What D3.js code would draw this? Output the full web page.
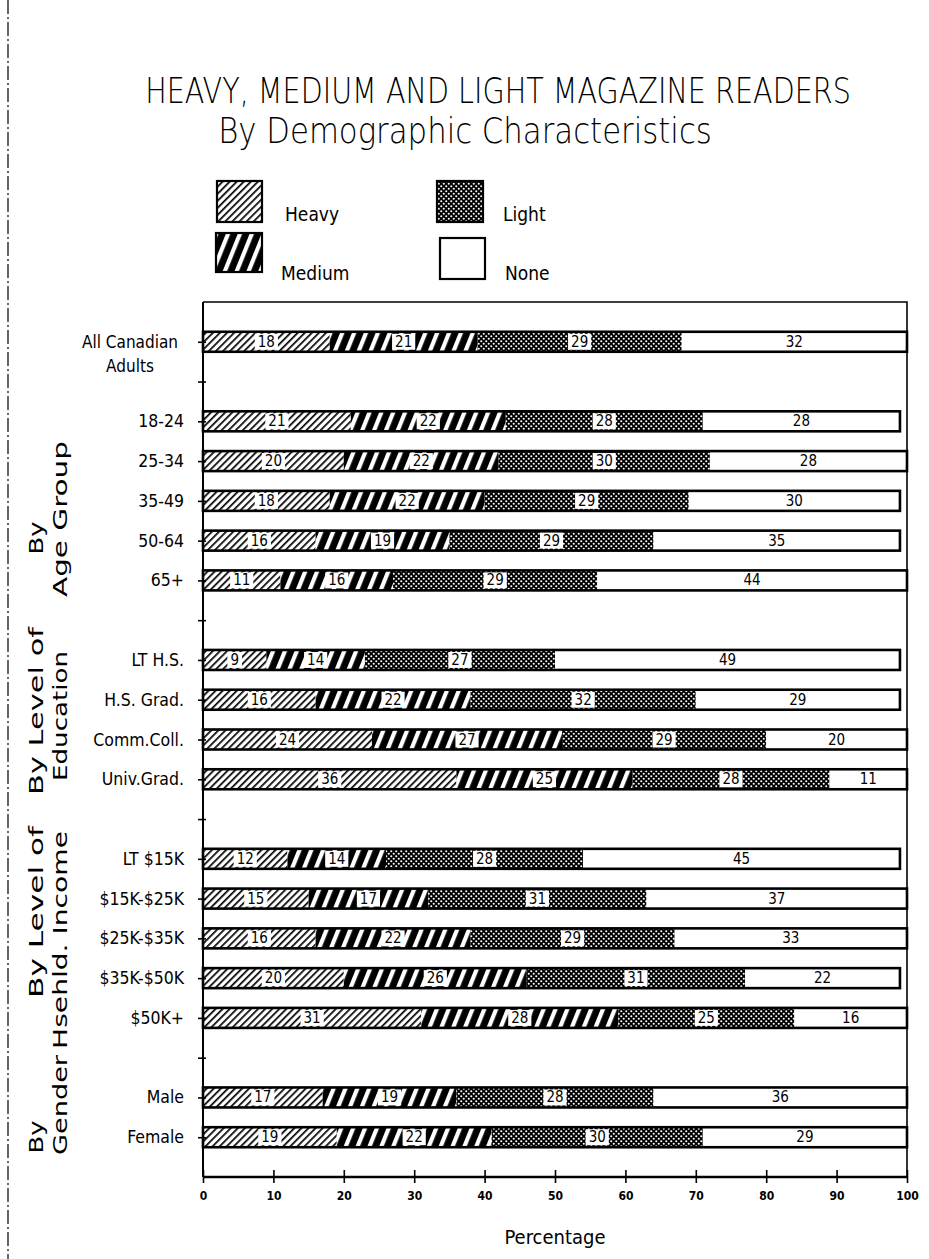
<!DOCTYPE html>
<html><head><meta charset="utf-8">
<script src="https://cdn.jsdelivr.net/npm/d3@7"></script>
<style>body{margin:0;background:#fff} svg{display:block}</style>
</head><body>
<svg id="c" width="929" height="1259"></svg>
<script>
// ---------- DATA ----------
const categories = ["All Canadian Adults","18-24","25-34","35-49","50-64","65+",
  "LT H.S.","H.S. Grad.","Comm.Coll.","Univ.Grad.",
  "LT $15K","$15K-$25K","$25K-$35K","$35K-$50K","$50K+",
  "Male","Female"];
const heavy  = [18,21,20,18,16,11, 9,16,24,36, 12,15,16,20,31, 17,19];
const medium = [21,22,22,22,19,16, 14,22,27,25, 14,17,22,26,28, 19,22];
const light  = [29,28,30,29,29,29, 27,32,29,28, 28,31,29,31,25, 28,30];
const none   = [32,28,28,30,35,44, 49,29,20,11, 45,37,33,22,16, 36,29];
const seriesNames = ["Heavy","Medium","Light","None"];
const xTicks = [0,10,20,30,40,50,60,70,80,90,100];
const groupTitles = [["By","Age Group"],["By Level of","Education"],["By Level of","Hsehld. Income"],["By","Gender"]];
const groupMembers = [["18-24","25-34","35-49","50-64","65+"],
  ["LT H.S.","H.S. Grad.","Comm.Coll.","Univ.Grad."],
  ["LT $15K","$15K-$25K","$25K-$35K","$35K-$50K","$50K+"],
  ["Male","Female"]];
const title = "HEAVY, MEDIUM AND LIGHT MAGAZINE READERS";
const subtitle = "By Demographic Characteristics";
const xTitle = "Percentage";

// ---------- LAYOUT ----------
const svg = d3.select("#c");
const X0 = 203, X1 = 907, YT = 302, YB = 1177;
const FONT = "'DejaVu Sans', sans-serif";

const slots = [categories[0]];
groupMembers.forEach((g, i) => { slots.push("gap" + i); g.forEach(c => slots.push(c)); });

const x = d3.scaleLinear().domain([0,100]).range([X0, X1]);
const y = d3.scalePoint().domain(slots).range([YT, YB]).padding(1);

// text fitted to a target width by horizontal scaling
function fitText(sel, cx, cy, rot, target) {
  const len = sel.node().getComputedTextLength();
  const k = target / len;
  sel.attr("transform", `translate(${cx},${cy}) rotate(${rot}) scale(${k},1)`);
}

// patterns
const defs = svg.append("defs");
let p = defs.append("pattern").attr("id","pHeavy").attr("patternUnits","userSpaceOnUse")
  .attr("width",5).attr("height",5).attr("patternTransform","rotate(45)");
p.append("rect").attr("width",5).attr("height",5).attr("fill","#fff");
p.append("rect").attr("x",0).attr("y",0).attr("width",1.7).attr("height",5).attr("fill","#000");

p = defs.append("pattern").attr("id","pMedium").attr("patternUnits","userSpaceOnUse")
  .attr("width",11).attr("height",11).attr("patternTransform","rotate(22)");
p.append("rect").attr("width",11).attr("height",11).attr("fill","#000");
p.append("rect").attr("x",0).attr("y",0).attr("width",4.2).attr("height",11).attr("fill","#fff");

p = defs.append("pattern").attr("id","pLight").attr("patternUnits","userSpaceOnUse")
  .attr("width",5).attr("height",5);
p.append("rect").attr("width",5).attr("height",5).attr("fill","#000");
p.append("circle").attr("cx",1.25).attr("cy",1.25).attr("r",1.05).attr("fill","#fff");
p.append("circle").attr("cx",3.75).attr("cy",3.75).attr("r",1.05).attr("fill","#fff");

const fills = {Heavy:"url(#pHeavy)", Medium:"url(#pMedium)", Light:"url(#pLight)", None:"#fff"};

// page border artefact (dashed left edge)
svg.append("line").attr("x1",8).attr("x2",8).attr("y1",0).attr("y2",1259)
  .attr("stroke","#000").attr("stroke-width",1.2).attr("stroke-dasharray","14,3,2,3");

// titles
fitText(svg.append("text").attr("text-anchor","middle")
  .attr("font-family",FONT).attr("font-weight",300).attr("font-size",35).text(title), 498, 103, 0, 706);
fitText(svg.append("text").attr("text-anchor","middle")
  .attr("font-family",FONT).attr("font-weight",300).attr("font-size",35).text(subtitle), 465, 143, 0, 494);

// legend
const legendPos = [
  {k:"Heavy", sx:217, sy:181, sw:45, sh:41, tx:285, ty:221},
  {k:"Medium",sx:216, sy:233, sw:46, sh:39, tx:281, ty:280},
  {k:"Light", sx:437, sy:181, sw:46, sh:41, tx:503, ty:221},
  {k:"None",  sx:440, sy:238, sw:45, sh:41, tx:505, ty:280}
];
legendPos.forEach(l => {
  svg.append("rect").attr("x",l.sx).attr("y",l.sy).attr("width",l.sw).attr("height",l.sh)
    .attr("fill",fills[l.k]).attr("stroke","#000").attr("stroke-width",2.2);
  svg.append("text").attr("x",l.tx).attr("y",l.ty).attr("font-family",FONT)
    .attr("font-size",19).attr("font-stretch","condensed").text(l.k);
});

// frame
svg.append("path").attr("d",`M${X0},${YT}H${X1}V${YB}`).attr("fill","none")
  .attr("stroke","#000").attr("stroke-width",1.6);

// data rows
const rows = categories.map((c,i) => ({cat:c, Heavy:heavy[i], Medium:medium[i], Light:light[i], None:none[i]}));
const stacked = d3.stack().keys(seriesNames)(rows);
const BH = 20;

const gBars = svg.append("g");
stacked.forEach(s => {
  gBars.selectAll(null).data(s).enter().append("rect")
    .attr("x", d => x(d[0])).attr("width", d => x(d[1]) - x(d[0]))
    .attr("y", d => y(d.data.cat) - BH/2).attr("height", BH)
    .attr("fill", fills[s.key]);
});
// outlines
gBars.selectAll(null).data(rows).enter().append("rect")
  .attr("x", x(0)).attr("width", d => x(d.Heavy+d.Medium+d.Light+d.None) - x(0))
  .attr("y", d => y(d.cat) - BH/2).attr("height", BH)
  .attr("fill","none").attr("stroke","#000").attr("stroke-width",2.6);
// segment labels
stacked.forEach(s => {
  s.forEach(d => {
    const cx = (x(d[0]) + x(d[1])) / 2, cy = y(d.data.cat);
    const g = gBars.append("g");
    const t = g.append("text").attr("x",cx).attr("y",cy+5).attr("text-anchor","middle")
      .attr("font-family",FONT).attr("font-size",15).attr("font-stretch","condensed")
      .text(d.data[s.key]);
    if (s.key !== "None") {
      const w = t.node().getComputedTextLength() + 6;
      g.insert("rect","text").attr("x",cx - w/2).attr("y",cy - BH/2 + 2).attr("width",w)
        .attr("height",BH - 4).attr("fill","#fff");
    }
  });
});

// y axis
const yAxis = svg.append("g").attr("transform",`translate(${X0},0)`)
  .call(d3.axisLeft(y).tickSize(5).tickFormat(""));
yAxis.select(".domain").remove();
yAxis.selectAll(".tick line").attr("x1",3).attr("x2",-5).attr("stroke-width",1.6);
svg.append("line").attr("x1",X0).attr("x2",X0).attr("y1",YT).attr("y2",YB)
  .attr("stroke","#000").attr("stroke-width",2);

// category labels
categories.forEach((c,i) => {
  if (i === 0) {
    const t = svg.append("text").attr("text-anchor","middle").attr("font-family",FONT)
      .attr("font-size",17).attr("font-stretch","condensed");
    t.append("tspan").attr("x",130).attr("y",y(c)+6).text("All Canadian");
    t.append("tspan").attr("x",130).attr("y",y(c)+30).text("Adults");
  } else {
    svg.append("text").attr("x",184).attr("y",y(c)+6).attr("text-anchor","end")
      .attr("font-family",FONT).attr("font-size",17.5).attr("font-stretch","condensed").text(c);
  }
});

// group labels (rotated)
const groupLinePos = [
  [{x:43, cy:538, len:33},  {x:67, cy:519, len:156}],
  [{x:43, cy:711, len:168}, {x:67, cy:716, len:130}],
  [{x:43, cy:912, len:172}, {x:67, cy:940, len:218}],
  [{x:43, cy:1137, len:33}, {x:67, cy:1105, len:100}]
];
groupTitles.forEach((lines, gi) => {
  lines.forEach((ln, li) => {
    const pos = groupLinePos[gi][li];
    fitText(svg.append("text").attr("text-anchor","middle").attr("font-family",FONT)
      .attr("font-size",20).text(ln), pos.x, pos.cy, -90, pos.len);
  });
});

// x axis
const xAxis = svg.append("g").attr("transform",`translate(0,${YB})`)
  .call(d3.axisBottom(x).tickValues(xTicks).tickSize(6).tickFormat(d3.format("d")));
xAxis.select(".domain").remove();
xAxis.selectAll(".tick line").attr("y1",-7).attr("y2",6).attr("stroke-width",1.6);
xAxis.selectAll(".tick text").attr("y",14).attr("font-family",FONT).attr("font-size",12)
  .attr("font-weight","bold").attr("font-stretch","condensed").attr("fill","#000");
svg.append("line").attr("x1",X0).attr("x2",X1).attr("y1",YB).attr("y2",YB)
  .attr("stroke","#000").attr("stroke-width",2.6);

svg.append("text").attr("x",555).attr("y",1244).attr("text-anchor","middle")
  .attr("font-family",FONT).attr("font-size",20).attr("font-stretch","condensed").text(xTitle);
</script>
</body></html>
